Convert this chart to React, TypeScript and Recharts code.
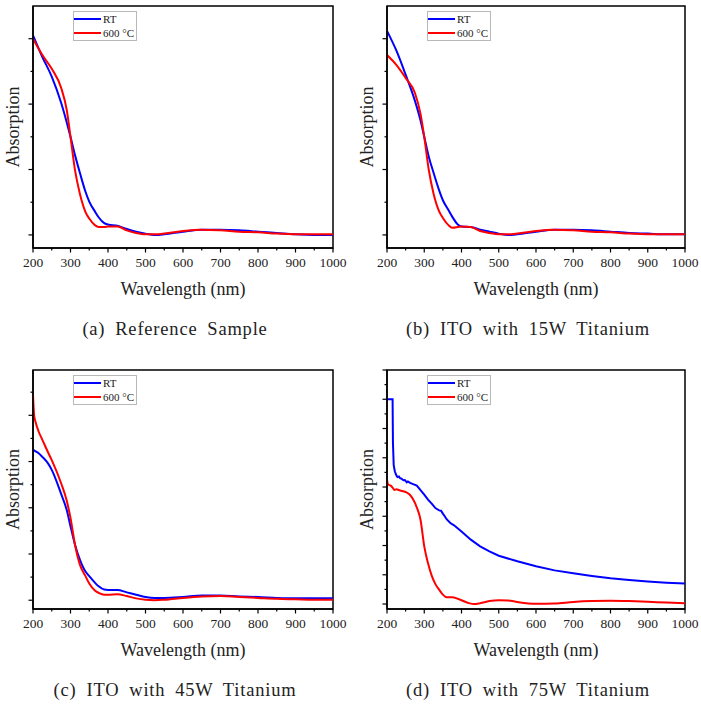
import React from 'react'
import { LineChart, Line, XAxis, YAxis, ReferenceArea, Legend } from 'recharts'

const FONT = 'Liberation Serif, Times New Roman, Times, serif'

// x ticks (nm): majors get labels, halves are minor ticks
const xTicks = [200, 250, 300, 350, 400, 450, 500, 550, 600, 650, 700, 750, 800, 850, 900, 950, 1000]
const legendOrder = ['RT', '600 °C']

// (a) Reference Sample
const abWave = [200, 225, 250, 275, 290, 300, 312, 325, 340, 350, 365, 375, 390, 400, 425, 450, 475, 500, 525, 550, 600, 650, 700, 750, 800, 850, 900, 950, 1000]
const aRT = [3.05, 2.72, 2.42, 2.02, 1.72, 1.5, 1.22, 0.95, 0.66, 0.51, 0.36, 0.27, 0.18, 0.16, 0.14, 0.09, 0.05, 0.02, 0.0, 0.01, 0.05, 0.08, 0.08, 0.07, 0.05, 0.03, 0.01, 0.0, 0.0]
const a600 = [3.0, 2.75, 2.54, 2.25, 1.91, 1.5, 0.99, 0.63, 0.35, 0.25, 0.15, 0.12, 0.12, 0.13, 0.13, 0.07, 0.03, 0.01, 0.01, 0.02, 0.06, 0.08, 0.07, 0.05, 0.04, 0.02, 0.01, 0.01, 0.01]

// (b) ITO with 15W Titanium
const bRT = [3.12, 2.82, 2.45, 2.05, 1.75, 1.5, 1.2, 0.95, 0.68, 0.53, 0.38, 0.28, 0.16, 0.13, 0.12, 0.08, 0.05, 0.02, 0.0, 0.01, 0.05, 0.08, 0.08, 0.07, 0.05, 0.03, 0.02, 0.01, 0.01]
const b600 = [2.75, 2.6, 2.4, 2.17, 1.85, 1.5, 1.0, 0.63, 0.36, 0.26, 0.15, 0.11, 0.12, 0.13, 0.12, 0.06, 0.03, 0.01, 0.01, 0.02, 0.06, 0.08, 0.07, 0.05, 0.04, 0.02, 0.01, 0.01, 0.01]
const abYTicks = [0, 0.5, 1, 1.5, 2, 2.5, 3]

// (c) ITO with 45W Titanium
const cWave = [200, 203, 207, 215, 225, 240, 250, 275, 290, 300, 312, 325, 340, 350, 365, 375, 390, 400, 425, 450, 475, 500, 525, 550, 600, 650, 700, 750, 800, 850, 900, 950, 1000]
const cRT = [3.25, 3.24, 3.22, 3.18, 3.1, 2.96, 2.82, 2.3, 1.95, 1.6, 1.2, 0.88, 0.62, 0.52, 0.38, 0.3, 0.23, 0.22, 0.22, 0.17, 0.12, 0.07, 0.05, 0.05, 0.07, 0.1, 0.1, 0.08, 0.07, 0.05, 0.04, 0.04, 0.04]
const c600 = [4.44, 4.0, 3.85, 3.65, 3.47, 3.2, 3.03, 2.53, 2.15, 1.78, 1.2, 0.77, 0.52, 0.36, 0.21, 0.16, 0.12, 0.12, 0.13, 0.09, 0.04, 0.01, 0.0, 0.01, 0.05, 0.08, 0.09, 0.07, 0.05, 0.03, 0.02, 0.01, 0.01]
const cYTicks = [0, 0.5, 1, 1.5, 2, 2.5, 3, 3.5, 4, 4.5]

// (d) ITO with 75W Titanium
const dRTWave = [200, 215, 216, 218, 221, 225, 228, 232, 235, 238, 244, 248, 253, 256, 262, 270, 280, 290, 300, 310, 320, 330, 335, 340, 345, 350, 355, 360, 370, 380, 400, 425, 450, 475, 500, 550, 600, 650, 700, 750, 800, 850, 900, 950, 1000]
const dRT = [7.0, 7.0, 5.5, 4.75, 4.54, 4.4, 4.34, 4.36, 4.3, 4.29, 4.23, 4.24, 4.16, 4.19, 4.14, 4.1, 4.05, 3.89, 3.74, 3.57, 3.43, 3.28, 3.24, 3.2, 3.19, 3.09, 3.0, 2.9, 2.77, 2.69, 2.48, 2.2, 1.97, 1.8, 1.65, 1.46, 1.29, 1.15, 1.05, 0.96, 0.88, 0.82, 0.77, 0.73, 0.7]
const d600Wave = [200, 203, 210, 215, 220, 225, 235, 250, 260, 270, 280, 290, 300, 310, 320, 330, 340, 350, 360, 375, 390, 400, 420, 435, 450, 475, 500, 525, 550, 600, 650, 700, 750, 800, 850, 900, 950, 1000]
const d600 = [4.25, 4.08, 4.05, 3.98, 3.9, 3.92, 3.88, 3.83, 3.75, 3.58, 3.3, 2.88, 1.97, 1.4, 0.97, 0.68, 0.49, 0.32, 0.23, 0.23, 0.18, 0.13, 0.03, 0.0, 0.03, 0.1, 0.13, 0.12, 0.07, 0.01, 0.02, 0.07, 0.1, 0.11, 0.1, 0.08, 0.05, 0.03]
const dYTicks = [0, 0.5, 1, 1.5, 2, 2.5, 3, 3.5, 4, 4.5, 5, 5.5, 6, 6.5, 7, 7.5, 8]

const rows = (ws: number[], vs: number[]) => ws.map((w, i) => ({ w, v: vs[i] }))

function XTick(props: any) {
  const { x, y, payload } = props
  const major = payload.value % 100 === 0
  return (
    <g>
      <line x1={x} x2={x} y1={y} y2={y + (major ? 4.5 : 2.5)} stroke="#000" strokeWidth={1.2} />
      {major && (
        <text x={x} y={y + 19} textAnchor="middle" fill="#222" style={{ fontFamily: FONT, fontSize: 13.5 }}>
          {payload.value}
        </text>
      )}
    </g>
  )
}

function YTick(props: any) {
  const { x, y, payload } = props
  const major = Number.isInteger(payload.value)
  return <line x1={x - (major ? 4.5 : 2.5)} x2={x} y1={y} y2={y} stroke="#000" strokeWidth={1.2} />
}

function XTitle(props: any) {
  const { viewBox, caption } = props
  const cx = viewBox.x + viewBox.width / 2
  return (
    <g fill="#222">
      <text x={cx} y={viewBox.y + 47} textAnchor="middle" style={{ fontFamily: FONT, fontSize: 18 }}>Wavelength (nm)</text>
      <text x={cx - 8} y={viewBox.y + 87} textAnchor="middle"
        style={{ fontFamily: FONT, fontSize: 18.5, letterSpacing: 0.8, wordSpacing: 4.5 }}>{caption}</text>
    </g>
  )
}

function YTitle(props: any) {
  const { viewBox } = props
  const cx = viewBox.x + viewBox.width - 20
  const cy = viewBox.y + viewBox.height / 2
  return (
    <text x={cx} y={cy} transform={`rotate(-90 ${cx} ${cy})`} textAnchor="middle" dominantBaseline="central"
      fill="#222" style={{ fontFamily: FONT, fontSize: 18 }}>Absorption</text>
  )
}

function LegendBox(props: any) {
  const items = [...(props.payload || [])].sort((p: any, q: any) => legendOrder.indexOf(p.value) - legendOrder.indexOf(q.value))
  return (
    <svg width={65} height={31} style={{ display: 'block' }}>
      <rect x={0.5} y={0.5} width={63} height={29} fill="#fff" stroke="#b8b8b8" />
      {items.map((p: any, i: number) => (
        <g key={i}>
          <line x1={1} x2={28} y1={8 + i * 14} y2={8 + i * 14} stroke={p.color} strokeWidth={2} />
          <text x={30} y={12 + i * 14} fill="#222" style={{ fontFamily: FONT, fontSize: 11 }}>{p.value}</text>
        </g>
      ))}
    </svg>
  )
}

interface PanelProps {
  left: number
  top: number
  width: number
  height: number
  plot: { l: number; t: number; r: number; b: number }
  yDomain: [number, number]
  yTicks: number[]
  rt: { w: number; v: number }[]
  hot: { w: number; v: number }[]
  rtLinear?: boolean
  caption: string
}

function Panel({ left, top, width, height, plot, yDomain, yTicks, rt, hot, rtLinear, caption }: PanelProps) {
  return (
    <div style={{ position: 'absolute', left, top }}>
      <LineChart width={width} height={height} margin={{ top: plot.t, right: width - plot.r, left: 0, bottom: 0 }}>
        <XAxis dataKey="w" type="number" domain={[200, 1000]} ticks={xTicks} interval={0} allowDataOverflow
          height={height - plot.b} tickSize={0} tickMargin={0} tickLine={false}
          axisLine={{ stroke: '#000', strokeWidth: 1.5 }} tick={<XTick />}
          label={<XTitle caption={caption} />} />
        <YAxis type="number" domain={yDomain} ticks={yTicks} interval={0} allowDataOverflow
          width={plot.l} tickSize={0} tickMargin={0} tickLine={false}
          axisLine={{ stroke: '#000', strokeWidth: 1.5 }} tick={<YTick />} label={<YTitle />} />
        <ReferenceArea x1={200} x2={1000} y1={yDomain[0]} y2={yDomain[1]} fill="none" stroke="#000" strokeWidth={1.5} />
        <Legend layout="vertical" align="center" verticalAlign="middle" content={<LegendBox />}
          wrapperStyle={{ left: plot.l + 40, top: plot.t + 5, width: 65, height: 31 }} />
        <Line data={rt} dataKey="v" name="RT" type={rtLinear ? 'linear' : 'monotone'} stroke="#0000ff" strokeWidth={2}
          dot={false} isAnimationActive={false} />
        <Line data={hot} dataKey="v" name="600 °C" type="monotone" stroke="#ff0000" strokeWidth={2}
          dot={false} isAnimationActive={false} />
      </LineChart>
    </div>
  )
}

export default function App() {
  return (
    <div style={{ position: 'absolute', left: 0, top: 0, width: 701, height: 704, background: '#fff', overflow: 'hidden' }}>
      <Panel left={0} top={0} width={350} height={350} plot={{ l: 33, t: 6, r: 333, b: 248 }}
        yDomain={[-0.2, 3.5]} yTicks={abYTicks} rt={rows(abWave, aRT)} hot={rows(abWave, a600)}
        caption="(a) Reference Sample" />
      <Panel left={350} top={0} width={351} height={350} plot={{ l: 37, t: 6, r: 335, b: 248 }}
        yDomain={[-0.2, 3.5]} yTicks={abYTicks} rt={rows(abWave, bRT)} hot={rows(abWave, b600)}
        caption="(b) ITO with 15W Titanium" />
      <Panel left={0} top={354} width={350} height={350} plot={{ l: 33, t: 16, r: 333, b: 255 }}
        yDomain={[-0.19, 4.98]} yTicks={cYTicks} rt={rows(cWave, cRT)} hot={rows(cWave, c600)}
        caption="(c) ITO with 45W Titanium" />
      <Panel left={350} top={354} width={351} height={350} plot={{ l: 37, t: 16, r: 335, b: 255 }}
        yDomain={[-0.17, 8.0]} yTicks={dYTicks} rt={rows(dRTWave, dRT)} hot={rows(d600Wave, d600)} rtLinear
        caption="(d) ITO with 75W Titanium" />
    </div>
  )
}
